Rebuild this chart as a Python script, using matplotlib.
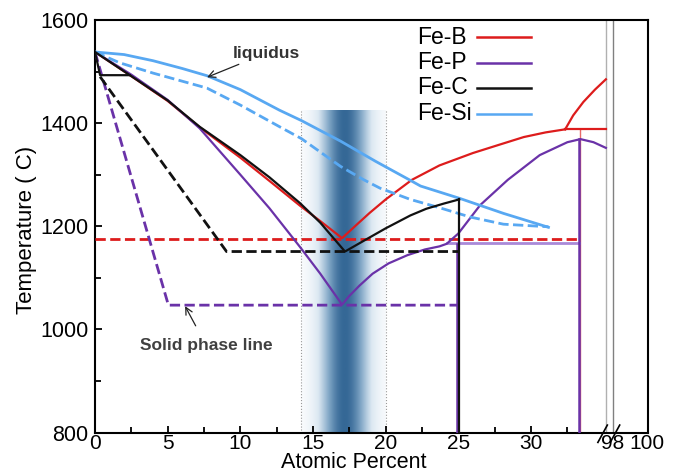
import numpy as np
import matplotlib
matplotlib.use('Agg')
import matplotlib.pyplot as plt
from matplotlib.colors import LinearSegmentedColormap
from matplotlib.transforms import blended_transform_factory

plt.rcParams['font.family'] = ['Liberation Sans', 'DejaVu Sans']

# --- data (atomic percent, deg C) ---
# Fe-B
feb_liq_x = [0, 2.4, 5, 7.2, 10, 12, 14.1, 15.5, 17, 18, 18.9, 20, 21.8, 23.7, 26, 27.8, 29.5, 31, 32.35]
feb_liq_y = [1538, 1493, 1443, 1392, 1333, 1288, 1240, 1210, 1177, 1203, 1226, 1252, 1290, 1318, 1342, 1358, 1373, 1382, 1388]
feb_upper_x = [32.35, 32.9, 33.6, 34.4, 35.15]
feb_upper_y = [1388, 1415, 1441, 1465, 1485]
feb_eut_T = 1175
feb_comp_x = 33.35
# Fe-P
fep_liq_x = [0, 2.5, 5, 7.2, 10, 12, 14.1, 15.5, 17, 17.5, 18.2, 19.1, 20.2, 21.5, 22.7, 23.7, 24.2,
             25, 26.5, 28.4, 30.6, 32.5, 33.4, 34.3, 35.15]
fep_liq_y = [1538, 1494, 1445, 1390, 1300, 1235, 1160, 1108, 1048, 1065, 1085, 1108, 1128, 1144, 1155, 1161, 1166,
             1186, 1241, 1290, 1338, 1363, 1369, 1363, 1352]
fep_sol_x = [0, 5.05, 25]
fep_sol_y = [1538, 1047, 1047]
fep_eut2_x = [24.2, 33.3]
fep_eut2_T = 1167
fep_comp_x = [24.93, 33.3]
fep_comp_top = [1166, 1369]
# Fe-C
fec_liq_x = [0, 2.4, 5, 7.2, 10, 12, 14.1, 15.5, 17.2, 18.5, 20, 21.7, 22.8, 24, 25.05]
fec_liq_y = [1538, 1493, 1444, 1393, 1338, 1295, 1245, 1207, 1151, 1172, 1196, 1221, 1234, 1244, 1252]
fec_delta_x = [0, 0.35, 2.4]
fec_delta_y = [1538, 1493, 1493]
fec_sol_x = [0.35, 9.05, 25.05]
fec_sol_y = [1490, 1151, 1151]
fec_comp_x = 25.05
# Fe-Si
fesi_liq_x = [0, 2, 4, 6, 7.7, 10, 12.7, 14.2, 16.9, 19.3, 21.7, 22.4, 25.1, 28.1, 31.2]
fesi_liq_y = [1538, 1533, 1521, 1506, 1492, 1465, 1425, 1405, 1365, 1326, 1289, 1278, 1254, 1225, 1198]
fesi_sol_x = [0, 1.7, 4, 7.7, 10, 12.7, 14.2, 16.9, 18.5, 19.6, 21.7, 23.7, 25.8, 28.1, 31.2]
fesi_sol_y = [1538, 1517, 1497, 1468, 1435, 1393, 1370, 1316, 1290, 1274, 1252, 1236, 1218, 1204, 1199]

series_names = ['Fe-B', 'Fe-P', 'Fe-C', 'Fe-Si']
series_colors = ['#dd1c1c', '#6a32a8', '#111111', '#58a8f2']
RED, PURPLE, BLACK, BLUE = series_colors

# broken axis: 98 and 100 sit just right of the gap
x_ticks = [0, 5, 10, 15, 20, 25, 30, 35.6, 38.0]
x_ticklabels = ['0', '5', '10', '15', '20', '25', '30', '98', '100']
break_x = [35.15, 35.66]
band_x = [14.2, 20.0]
band_top = 1425

fig = plt.figure(figsize=(6.8, 4.73), dpi=100)
ax = fig.add_axes([0.1397, 0.0856, 0.8135, 0.8721])
ax.set_xlim(0, 38.06)
ax.set_ylim(800, 1600)

# shaded glass-forming band
xs = np.linspace(band_x[0], band_x[1], 300)
shade = np.exp(-((xs - 17.2) / 1.75) ** 2)
cmap = LinearSegmentedColormap.from_list('band', ['#ffffff', '#dce8f2', '#84a9c8', '#356896'])
ax.imshow(shade[np.newaxis, :], extent=[band_x[0], band_x[1], 800, band_top], aspect='auto',
          cmap=cmap, vmin=0, vmax=1, zorder=0, interpolation='bilinear')
for bx in band_x:
    ax.plot([bx, bx], [800, band_top], color='#9a9a9a', lw=0.8, ls=':', zorder=1)

# gap lines
ax.axvline(break_x[0], color='#b0b0b0', lw=1.0, zorder=1)
ax.axvline(break_x[1], color='#808080', lw=1.0, zorder=1)

lw = 1.6
# Fe-B
ax.plot(feb_liq_x, feb_liq_y, color=RED, lw=lw, zorder=3)
ax.plot(feb_upper_x, feb_upper_y, color=RED, lw=lw, zorder=3)
ax.plot([feb_liq_x[-1], break_x[0]], [feb_liq_y[-1]] * 2, color=RED, lw=lw, zorder=3)
ax.plot([feb_comp_x, feb_comp_x], [800, feb_liq_y[-1]], color='#e86a6a', lw=1.0, zorder=2)
ax.plot([0, feb_comp_x], [feb_eut_T] * 2, color=RED, lw=2, ls='--', zorder=3)

# Fe-P
ax.plot(fep_eut2_x, [fep_eut2_T] * 2, color='#a98ad8', lw=2, zorder=2)
ax.plot(fep_liq_x, fep_liq_y, color=PURPLE, lw=lw, zorder=3)
ax.plot(fep_sol_x, fep_sol_y, color=PURPLE, lw=2, ls='--', zorder=3)
for cx, top in zip(fep_comp_x, fep_comp_top):
    ax.plot([cx, cx], [800, top], color=PURPLE, lw=1.8, zorder=3)

# Fe-C
ax.plot(fec_liq_x, fec_liq_y, color=BLACK, lw=lw, zorder=4)
ax.plot(fec_delta_x, fec_delta_y, color=BLACK, lw=lw, zorder=4)
ax.plot(fec_sol_x, fec_sol_y, color=BLACK, lw=2, ls='--', zorder=4)
ax.plot([fec_comp_x, fec_comp_x], [800, fec_liq_y[-1]], color=BLACK, lw=1.6, zorder=4)

# Fe-Si
ax.plot(fesi_liq_x, fesi_liq_y, color=BLUE, lw=2, zorder=3)
ax.plot(fesi_sol_x, fesi_sol_y, color=BLUE, lw=2, ls='--', zorder=3)

# hand-made legend (label first, line after)
leg_y = [0.958, 0.896, 0.836, 0.773]
for name, col, yy in zip(series_names, series_colors, leg_y):
    ax.text(0.582, yy, name, transform=ax.transAxes, fontsize=16.5, ha='left', va='center')
    ax.plot([0.691, 0.788], [yy, yy], color=col, lw=1.8, transform=ax.transAxes)

# annotations
ax.annotate('liquidus', xy=(7.71, 1489), xytext=(9.5, 1536), fontsize=12.5, fontweight='bold',
            color='#333333', va='center', ha='left',
            arrowprops=dict(arrowstyle='->', color='#222222', lw=0.9, shrinkA=2, shrinkB=0))
ax.annotate('Solid phase line', xy=(6.2, 1045), xytext=(7.67, 968), fontsize=12.5, fontweight='bold',
            color='#404040', va='center', ha='center',
            arrowprops=dict(arrowstyle='->', color='#222222', lw=0.9, shrinkA=8, shrinkB=0))

# axes styling
for sp in ax.spines.values():
    sp.set_linewidth(1.5)
ax.set_xticks(x_ticks)
ax.set_xticklabels(x_ticklabels)
ax.set_xticks(np.arange(2.5, 33, 5), minor=True)
ax.set_yticks([800, 1000, 1200, 1400, 1600])
ax.set_yticks([900, 1100, 1300, 1500], minor=True)
ax.tick_params(axis='both', which='both', direction='in', width=1.3)
ax.tick_params(axis='both', which='major', length=5)
ax.tick_params(axis='both', which='minor', length=4)
ax.tick_params(axis='x', pad=1, labelsize=15)
ax.tick_params(axis='y', pad=4.5, labelsize=15.5)
for t in ax.xaxis.get_major_ticks()[-2:]:
    t.tick1line.set_visible(False)

# break marks on the bottom spine
trans = blended_transform_factory(ax.transData, ax.transAxes)
for x0 in [34.6, 35.45]:
    ax.plot([x0, x0 + 0.65], [-0.024, 0.018], color='black', lw=1.2, transform=trans, clip_on=False)

ax.set_xlabel('Atomic Percent', fontsize=15.5)
ax.xaxis.set_label_coords(0.467, -0.048)
ax.set_ylabel('Temperature ( C)', fontsize=16)
ax.yaxis.set_label_coords(-0.105, 0.49)

fig.savefig('out.png', dpi=100)
